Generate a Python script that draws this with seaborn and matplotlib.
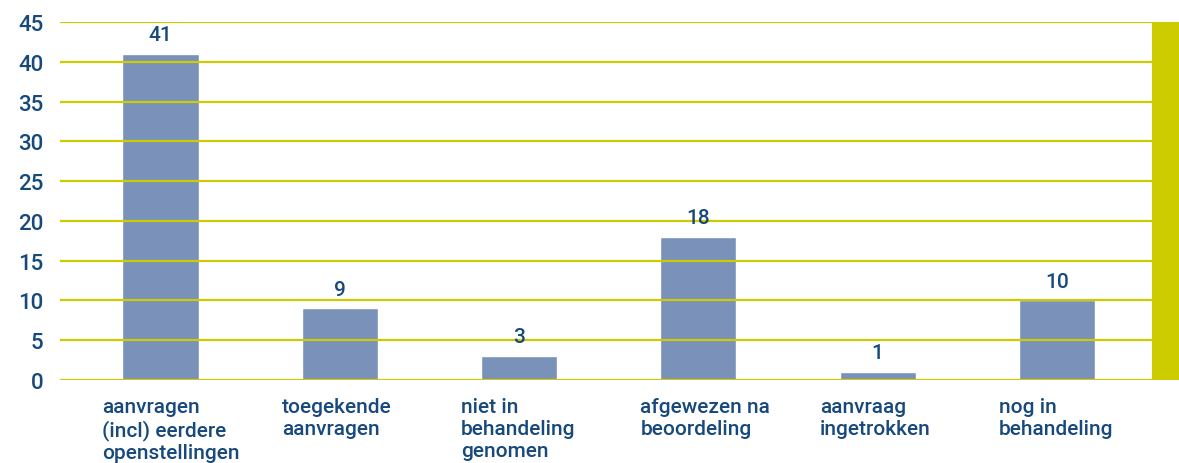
import matplotlib
matplotlib.use("Agg")
import matplotlib.pyplot as plt
import matplotlib.transforms as mtransforms
from matplotlib.patches import Rectangle
import seaborn as sns

categories = [
    "aanvragen\n(incl) eerdere\nopenstellingen",
    "toegekende\naanvragen",
    "niet in\nbehandeling\ngenomen",
    "afgewezen na\nbeoordeling",
    "aanvraag\ningetrokken",
    "nog in\nbehandeling",
]
values = [41, 9, 3, 18, 1, 10]
yticks = [0, 5, 10, 15, 20, 25, 30, 35, 40, 45]

TEXT = "#17497c"
BAR = "#7a91b9"
GRID = "#cccc00"

sns.set_theme(style="white")
plt.rcParams["font.family"] = ["Roboto", "DejaVu Sans"]

fig = plt.figure(figsize=(11.79, 4.64), dpi=100)
ax = fig.add_axes([60 / 1179, 83 / 464, 1092 / 1179, 358 / 464])

sns.barplot(x=categories, y=values, color=BAR, saturation=1, width=0.425, ax=ax)

ax.set_ylim(0, 45)
ax.set_xlim(-0.56, 5.53)
ax.set_yticks(yticks)
ax.set_yticklabels([str(t) for t in yticks], fontsize=16, color=TEXT, fontweight="medium")
ax.set_axisbelow(False)
ax.yaxis.grid(True, color=GRID, linewidth=1.6)
ax.xaxis.grid(False)
for s in ax.spines.values():
    s.set_visible(False)
ax.tick_params(axis="y", length=0, pad=12)
ax.tick_params(axis="x", length=0, pad=12)
ax.set_xlabel("")
ax.set_ylabel("")

offset = mtransforms.ScaledTranslation(-58 / 100, 0, fig.dpi_scale_trans)
for lbl in ax.get_xticklabels():
    lbl.set_horizontalalignment("left")
    lbl.set_verticalalignment("top")
    lbl.set_fontsize(15)
    lbl.set_color(TEXT)
    lbl.set_fontweight("medium")
    lbl.set_linespacing(1.2)
    lbl.set_transform(lbl.get_transform() + offset)

ax.bar_label(ax.containers[0], labels=[str(v) for v in values], padding=7,
             fontsize=15, color=TEXT, fontweight="medium")

ax.add_patch(Rectangle((1.0, 0.0), 30 / 1092, 1.0, transform=ax.transAxes,
                       color=GRID, clip_on=False, zorder=3, linewidth=0))

fig.savefig("out.png", dpi=100)
